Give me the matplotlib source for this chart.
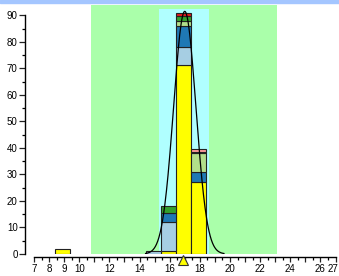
import numpy as np
import matplotlib
matplotlib.use('Agg')
import matplotlib.pyplot as plt
import matplotlib.transforms as mtransforms
from matplotlib.patches import Rectangle

# histogram bins (centres) and stacked counts per group
bin_centers = [8.9, 14.9, 15.9, 16.9, 17.9]
yellow      = [2.0, 0.0, 1.0, 71.2, 27.3]
light_blue  = [0.0, 1.2, 11.2, 6.7, 0.0]
blue        = [0.0, 0.0, 3.1, 8.2, 3.5]
light_green = [0.0, 0.0, 0.0, 1.9, 7.2]
green       = [0.0, 0.0, 2.9, 1.8, 0.6]
pink        = [0.0, 0.0, 0.0, 0.0, 0.9]
red         = [0.0, 0.0, 0.0, 1.2, 0.0]

# fitted normal curve
fit_mean = 17.0
fit_sd = 0.74
fit_peak = 91.5
marker_x = 16.9

# spec / target zones
green_zone = (10.8, 23.1, 93.9)
cyan_zone = (15.3, 18.6, 92.3)

x_labels = [7, 8, 9, 10, 12, 14, 16, 18, 20, 22, 24, 26, 27]

plt.rcParams['font.family'] = ['Liberation Sans', 'DejaVu Sans']

fig = plt.figure(figsize=(3.39, 2.76), dpi=100)
# header strip along the top
fig.patches.append(Rectangle((0, 1 - 3 / 276), 1, 3 / 276, transform=fig.transFigure,
                             color='#a4c6ff', zorder=0))
ax = fig.add_axes([34 / 339, 22 / 276, 301.5 / 339, 249 / 276])
ax.patch.set_alpha(0)

ax.add_patch(Rectangle((green_zone[0], 0), green_zone[1] - green_zone[0], green_zone[2],
                       color='#aaffaa', lw=0, zorder=0))
ax.add_patch(Rectangle((cyan_zone[0], 0), cyan_zone[1] - cyan_zone[0], cyan_zone[2],
                       color='#b0ffff', lw=0, zorder=0.5))

series = [(yellow, '#ffff00'), (light_blue, '#a6cee3'), (blue, '#1f78b4'),
          (light_green, '#b2df8a'), (green, '#33a02c'), (pink, '#fb9a99'),
          (red, '#e31a1c')]
bottom = np.zeros(len(bin_centers))
for vals, col in series:
    vals = np.array(vals)
    mask = vals > 0
    ax.bar(np.array(bin_centers)[mask], vals[mask], width=1.0, bottom=bottom[mask],
           color=col, edgecolor='#222222', linewidth=0.8, zorder=2)
    bottom += vals

xs = np.linspace(14.4, 19.6, 200)
ax.plot(xs, fit_peak * np.exp(-0.5 * ((xs - fit_mean) / fit_sd) ** 2),
        color='black', lw=0.9, zorder=3)

ax.plot(marker_x, -2.4, marker='^', ms=6.5, mfc='#ffff00', mec='#333333', mew=0.8,
        clip_on=False, zorder=4)

ax.set_xlim(7, 27)
ax.set_ylim(0, 93.9)

for s in ['top', 'right']:
    ax.spines[s].set_visible(False)
ax.spines['left'].set_position(('outward', 6.5))
ax.spines['bottom'].set_position(('outward', 2.2))
ax.spines['left'].set_bounds(0, 90)
ax.spines['bottom'].set_bounds(7, 27)
ax.spines['left'].set_linewidth(1.0)
ax.spines['bottom'].set_linewidth(1.0)

ax.set_yticks(range(0, 91, 10))
ax.set_yticks(range(5, 91, 10), minor=True)
ax.set_xticks(range(7, 28))
ax.set_xticks(np.arange(7.5, 27, 1.0), minor=True)
ax.set_xticklabels([str(v) if v in x_labels else '' for v in range(7, 28)])

ax.tick_params(axis='both', which='major', labelsize=7, width=0.9, color='#222222')
ax.tick_params(axis='y', which='major', length=4.3, pad=1)
ax.tick_params(axis='y', which='minor', length=2.2, width=0.9)
ax.tick_params(axis='x', which='major', length=3.6, pad=1.5)
ax.tick_params(axis='x', which='minor', length=2.0, width=0.9)

# keep the last label inside the figure
last = ax.get_xticklabels()[-1]
last.set_transform(last.get_transform() +
                   mtransforms.ScaledTranslation(-3 / 100, 0, fig.dpi_scale_trans))

fig.savefig('out.png', dpi=100)
